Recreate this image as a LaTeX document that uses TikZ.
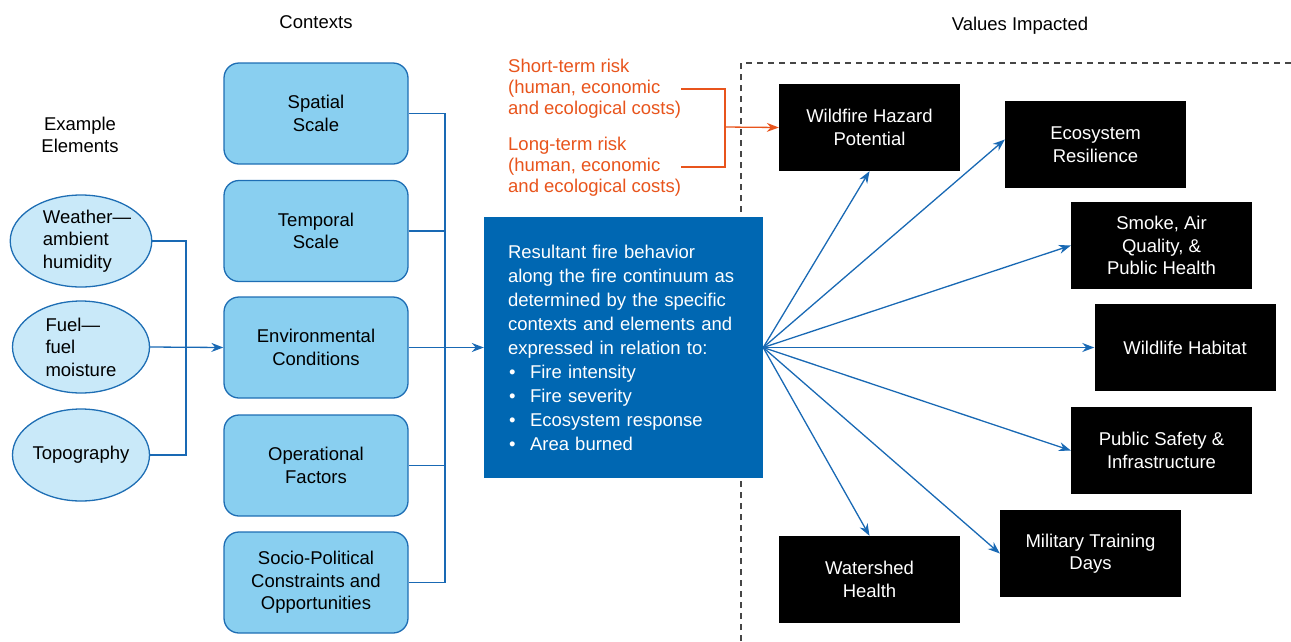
\documentclass[tikz,border=0pt]{standalone}
\usepackage{fontspec}
\setmainfont{Liberation Sans}
\usetikzlibrary{shapes.geometric,arrows.meta}
\definecolor{ctxfill}{RGB}{137,207,240}
\definecolor{ctxline}{RGB}{30,110,180}
\definecolor{ellfill}{RGB}{201,233,249}
\definecolor{resfill}{RGB}{0,103,178}
\definecolor{conblue}{RGB}{25,105,180}
\definecolor{riskorange}{RGB}{232,84,28}
\definecolor{dashgray}{RGB}{70,70,70}
\begin{document}
\begin{tikzpicture}[x=1pt,y=-1pt,
  txt/.style={font=\fontsize{18.5}{22.5}\selectfont, inner sep=0pt},
  ctxbox/.style={txt, draw=ctxline, fill=ctxfill, line width=1.3pt, rounded corners=15pt,
    minimum width=184pt, minimum height=101pt, align=center},
  elem/.style={txt, ellipse, draw=ctxline, fill=ellfill, line width=1.3pt,
    minimum width=137pt, minimum height=92pt, align=left},
  valbox/.style={txt, fill=black, text=white, minimum width=181pt, minimum height=87pt, align=center},
  conn/.style={draw=conblue, line width=1.3pt},
  arr/.style={conn, -{Stealth[length=12pt,width=9pt]}},
  risk/.style={txt, text=riskorange, align=left, font=\fontsize{18.5}{21}\selectfont},
  riskline/.style={draw=riskorange, line width=1.3pt}
]
\useasboundingbox (0,0) rectangle (1291,641);

% headings
\node[txt] (hctx) at (316,22) {Contexts};
\node[txt] (hval) at (1020,26) {Values Impacted};
\node[txt, align=center] (hel) at (80,135) {Example\\Elements};

% dashed frame
\coordinate (dtl) at (741,63);
\coordinate (dbl) at (741,641);
\coordinate (dtr) at (1291,63);
\draw[dashgray, dashed, dash pattern=on 6pt off 5pt, line width=1.3pt] (dbl) -- (dtl) -- (dtr);

% example elements
\node[elem] (wea) at (81,241) {\hspace*{12pt}Weather—\\\hspace*{12pt}ambient\\\hspace*{12pt}humidity};
\node[elem] (fue) at (81,347) {Fuel—\\fuel\\moisture};
\node[elem, align=center] (top) at (81,455) {Topography};

% contexts
\node[ctxbox] (ss) at (316,113.5) {Spatial\\Scale};
\node[ctxbox] (ts) at (316,231) {Temporal\\Scale};
\node[ctxbox] (ec) at (316,347.5) {Environmental\\Conditions};
\node[ctxbox] (of) at (316,465.5) {Operational\\Factors};
\node[ctxbox] (sp) at (316,582.5) {Socio-Political\\Constraints and\\Opportunities};

% result box
\node[txt, fill=resfill, text=white, minimum width=279pt, minimum height=261pt,
  text width=231pt, align=left, font=\fontsize{18.5}{24}\selectfont] (res) at (623.5,347.5)
  {Resultant fire behavior\\along the fire continuum as\\determined by the specific\\contexts and elements and\\expressed in relation to:\\
   \hspace*{1pt}\makebox[21pt][l]{•}Fire intensity\\
   \hspace*{1pt}\makebox[21pt][l]{•}Fire severity\\
   \hspace*{1pt}\makebox[21pt][l]{•}Ecosystem response\\
   \hspace*{1pt}\makebox[21pt][l]{•}Area burned};

% risk texts
\node[risk, anchor=west] (sr) at (508,89) {Short-term risk\\(human, economic\\and ecological costs)};
\node[risk, anchor=west] (lr) at (508,167) {Long-term risk\\(human, economic\\and ecological costs)};

% values impacted
\node[valbox] (whp) at (869.5,127.5) {Wildfire Hazard\\Potential};
\node[valbox] (eco) at (1095.5,144.5) {Ecosystem\\Resilience};
\node[valbox] (smk) at (1161.5,245.5) {Smoke, Air\\Quality, \&\\Public Health};
\node[valbox] (wlh) at (1185,347.5) {Wildlife Habitat};
\node[valbox] (pub) at (1161.5,450.5) {Public Safety \&\\Infrastructure};
\node[valbox] (mil) at (1090.5,553.5) {Military Training\\Days};
\node[valbox] (wsh) at (869.5,579.5) {Watershed\\Health};

% element connectors
\coordinate (ej) at (186,347);
\draw[conn] (wea.east) -| (ej);
\draw[conn] (top.east) -| (ej);
\draw[arr] (fue.east) -- (ec.west);

% context connectors
\coordinate (cj) at (445,347.5);
\draw[conn] (ss.east) -| (cj);
\draw[conn] (sp.east) -| (cj);
\draw[conn] (ts.east) -- (ts.east -| cj);
\draw[conn] (of.east) -- (of.east -| cj);
\draw[arr] (ec.east) -- (res.west);

% risk bracket
\coordinate (rj) at (725,127);
\draw[riskline] (sr.east) -| (rj);
\draw[riskline] (lr.east) -| (rj);
\draw[riskline, -{Stealth[length=12pt,width=9pt]}] (rj) -- (whp.west);

% fan of arrows
\draw[arr] (res.east) -- (whp.south);
\draw[arr] (res.east) -- ([yshift=5pt]eco.west);
\draw[arr] (res.east) -- (smk.west);
\draw[arr] (res.east) -- (wlh.west);
\draw[arr] (res.east) -- (pub.west);
\draw[arr] (res.east) -- (mil.west);
\draw[arr] (res.east) -- (wsh.north);
\end{tikzpicture}
\end{document}
